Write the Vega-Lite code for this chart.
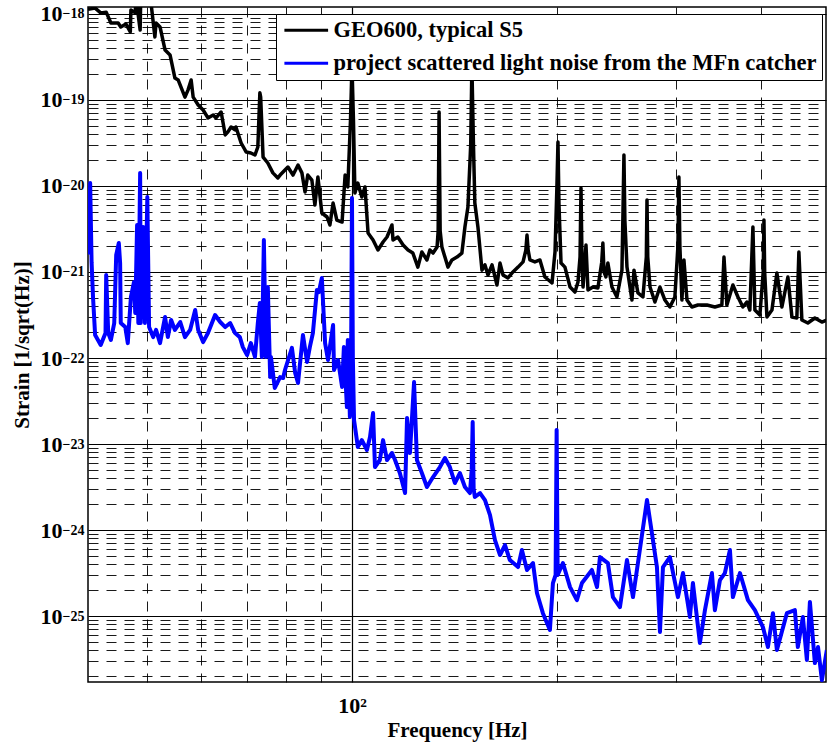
{
  "$schema": "https://vega.github.io/schema/vega-lite/v6.json",
  "width": 738,
  "height": 675,
  "autosize": {"type": "none"},
  "padding": {"left": 88, "top": 7, "right": 2, "bottom": 66},
  "background": "white",
  "config": {
    "view": {"stroke": "#000000", "strokeWidth": 1.5},
    "axis": {
      "domain": false,
      "ticks": false,
      "grid": true,
      "gridColor": "#000000",
      "gridOpacity": 1,
      "labelColor": "#000000",
      "titleColor": "#000000",
      "labelFont": "Liberation Serif",
      "titleFont": "Liberation Serif",
      "labelFontWeight": "bold",
      "titleFontWeight": "bold",
      "labelFontSize": 22,
      "titleFontSize": 21,
      "labelOverlap": false,
      "labelFlush": false
    }
  },
  "datasets": {
    "geo600": [
      {"f":40.9,"h":1.13e-18},{"f":41.9,"h":1.17e-18},{"f":42.7,"h":1.03e-18},{"f":43.5,"h":1.05e-18},{"f":44.2,"h":7.86e-19},{"f":45.3,"h":7.86e-19},{"f":45.7,"h":7.06e-19},{"f":46.5,"h":7.65e-19},{"f":47.2,"h":6.18e-19},{"f":47.3,"h":1.11e-18},{"f":48.0,"h":1.03e-18},{"f":48.1,"h":1.6e-18},{"f":48.8,"h":6.52e-19},{"f":48.9,"h":1.6e-18},{"f":50.5,"h":1.6e-18},{"f":51.3,"h":5.4e-19},{"f":51.5,"h":7.86e-19},{"f":52.2,"h":7.06e-19},{"f":53.1,"h":3.81e-19},{"f":54.0,"h":3.34e-19},{"f":54.9,"h":1.8e-19},{"f":55.5,"h":1.71e-19},{"f":56.8,"h":1.08e-19},{"f":57.4,"h":1.31e-19},{"f":58.0,"h":1.71e-19},{"f":58.4,"h":1.08e-19},{"f":59.4,"h":8.75e-20},{"f":60.4,"h":7.65e-20},{"f":61.4,"h":6.18e-20},{"f":62.5,"h":6.69e-20},{"f":63.1,"h":6.18e-20},{"f":64.2,"h":7.25e-20},{"f":65.1,"h":3.92e-20},{"f":65.7,"h":4.25e-20},{"f":66.4,"h":4.85e-20},{"f":67.3,"h":4.48e-20},{"f":67.5,"h":4.85e-20},{"f":68.7,"h":3.16e-20},{"f":69.9,"h":2.48e-20},{"f":71.0,"h":2.42e-20},{"f":72.0,"h":2.29e-20},{"f":72.7,"h":2.84e-20},{"f":73.2,"h":1.21e-19},{"f":73.4,"h":1.08e-19},{"f":74.0,"h":2.17e-20},{"f":75.2,"h":1.85e-20},{"f":76.5,"h":1.42e-20},{"f":77.8,"h":1.24e-20},{"f":78.4,"h":1.34e-20},{"f":79.7,"h":1.53e-20},{"f":80.5,"h":1.66e-20},{"f":81.9,"h":1.34e-20},{"f":83.3,"h":1.75e-20},{"f":84.4,"h":1.42e-20},{"f":85.3,"h":8.52e-21},{"f":86.1,"h":1.34e-20},{"f":87.3,"h":1.17e-20},{"f":88.2,"h":6.01e-21},{"f":89.1,"h":1.27e-20},{"f":90.3,"h":4.85e-21},{"f":91.9,"h":4.36e-21},{"f":92.8,"h":3.52e-21},{"f":93.8,"h":6.34e-21},{"f":95.0,"h":4.02e-21},{"f":96.7,"h":3.81e-21},{"f":97.7,"h":1.34e-20},{"f":98.6,"h":9.74e-21},{"f":99.5,"h":5.85e-20},{"f":100.0,"h":2.5e-19},{"f":100.5,"h":5.85e-20},{"f":101.0,"h":8.29e-21},{"f":102.0,"h":1.08e-20},{"f":103.4,"h":7.45e-21},{"f":104.5,"h":9.74e-21},{"f":105.6,"h":2.84e-21},{"f":107.4,"h":2.36e-21},{"f":109.2,"h":1.8e-21},{"f":111.1,"h":2.23e-21},{"f":112.6,"h":2.55e-21},{"f":114.5,"h":3.52e-21},{"f":114.9,"h":2.36e-21},{"f":116.8,"h":2.55e-21},{"f":118.9,"h":2.06e-21},{"f":120.9,"h":1.8e-21},{"f":122.9,"h":1.66e-21},{"f":125.0,"h":1.14e-21},{"f":126.7,"h":1.71e-21},{"f":128.9,"h":1.38e-21},{"f":130.2,"h":1.8e-21},{"f":131.6,"h":1.66e-21},{"f":133.4,"h":1.95e-21},{"f":133.9,"h":3.0e-21},{"f":134.3,"h":7.25e-20},{"f":134.8,"h":3.0e-21},{"f":135.6,"h":1.95e-21},{"f":137.0,"h":1.49e-21},{"f":138.4,"h":1.14e-21},{"f":140.3,"h":1.38e-21},{"f":142.7,"h":1.49e-21},{"f":145.1,"h":1.66e-21},{"f":146.6,"h":3.34e-21},{"f":148.1,"h":5.7e-21},{"f":149.5,"h":3.0e-20},{"f":150.1,"h":2.5e-19},{"f":150.9,"h":3.0e-20},{"f":151.6,"h":6.34e-21},{"f":153.2,"h":3.34e-21},{"f":155.3,"h":1.05e-21},{"f":156.9,"h":1.21e-21},{"f":158.5,"h":9.23e-22},{"f":160.7,"h":1.21e-21},{"f":163.4,"h":7.06e-22},{"f":165.1,"h":1.27e-21},{"f":166.8,"h":9.23e-22},{"f":169.6,"h":8.52e-22},{"f":172.5,"h":1.0e-21},{"f":175.5,"h":1.14e-21},{"f":178.5,"h":1.31e-21},{"f":180.2,"h":1.8e-21},{"f":180.9,"h":2.69e-21},{"f":181.6,"h":1.8e-21},{"f":182.7,"h":1.38e-21},{"f":185.8,"h":1.31e-21},{"f":189.0,"h":1.38e-21},{"f":192.2,"h":8.75e-22},{"f":196.9,"h":7.45e-22},{"f":198.9,"h":1.71e-21},{"f":200.2,"h":1.0e-20},{"f":200.9,"h":3.25e-20},{"f":201.6,"h":6.0e-21},{"f":203.0,"h":1.27e-21},{"f":205.7,"h":1.14e-21},{"f":209.3,"h":6.69e-22},{"f":212.8,"h":5.85e-22},{"f":215.0,"h":7.65e-22},{"f":216.5,"h":1.5e-21},{"f":217.2,"h":9.48e-21},{"f":217.9,"h":1.5e-21},{"f":218.7,"h":6.69e-22},{"f":220.9,"h":2.06e-21},{"f":222.4,"h":6.18e-22},{"f":226.2,"h":6.69e-22},{"f":230.0,"h":6.52e-22},{"f":233.0,"h":1.3e-21},{"f":233.9,"h":2.17e-21},{"f":234.8,"h":1.0e-21},{"f":236.3,"h":8.75e-22},{"f":237.9,"h":1.27e-21},{"f":241.2,"h":6.69e-22},{"f":245.3,"h":5.12e-22},{"f":249.5,"h":1.05e-21},{"f":250.4,"h":5.0e-21},{"f":251.2,"h":2.29e-20},{"f":252.0,"h":4.0e-21},{"f":253.8,"h":1.14e-21},{"f":258.1,"h":4.72e-22},{"f":259.9,"h":1.05e-21},{"f":263.4,"h":5.7e-22},{"f":267.9,"h":5.12e-22},{"f":271.0,"h":1.5e-21},{"f":271.6,"h":6.88e-21},{"f":272.3,"h":1.5e-21},{"f":274.4,"h":6.69e-22},{"f":279.0,"h":4.48e-22},{"f":283.8,"h":6.69e-22},{"f":288.6,"h":4.72e-22},{"f":293.5,"h":3.92e-22},{"f":298.5,"h":5.12e-22},{"f":301.6,"h":2.0e-21},{"f":302.6,"h":1.27e-20},{"f":303.6,"h":2.0e-21},{"f":305.7,"h":4.72e-22},{"f":307.8,"h":1.38e-21},{"f":311.0,"h":4.72e-22},{"f":316.2,"h":3.92e-22},{"f":322.7,"h":4.13e-22},{"f":332.7,"h":4.13e-22},{"f":341.8,"h":3.92e-22},{"f":350.0,"h":4.13e-22},{"f":352.5,"h":1.49e-21},{"f":356.0,"h":4.13e-22},{"f":363.3,"h":7.06e-22},{"f":369.6,"h":5.12e-22},{"f":375.8,"h":3.92e-22},{"f":380.9,"h":4.48e-22},{"f":384.8,"h":3.61e-22},{"f":388.8,"h":3.34e-21},{"f":391.4,"h":3.61e-22},{"f":398.1,"h":3.16e-22},{"f":402.6,"h":1.0e-21},{"f":403.6,"h":4.02e-21},{"f":404.6,"h":1.0e-21},{"f":407.7,"h":3.0e-22},{"f":414.7,"h":3.61e-22},{"f":421.7,"h":9.74e-22},{"f":428.9,"h":3.92e-22},{"f":437.7,"h":8.75e-22},{"f":443.7,"h":3.0e-22},{"f":451.2,"h":2.92e-22},{"f":454.3,"h":1.71e-21},{"f":458.9,"h":2.77e-22},{"f":468.3,"h":2.55e-22},{"f":479.6,"h":2.92e-22},{"f":491.1,"h":2.62e-22},{"f":499.4,"h":2.77e-22}
    ],
    "mfn": [
      {"f":41.0,"h":1.6e-21},{"f":41.2,"h":1.08e-20},{"f":41.4,"h":1.3e-21},{"f":41.6,"h":5.12e-22},{"f":41.9,"h":1.85e-22},{"f":42.3,"h":1.62e-22},{"f":42.7,"h":1.42e-22},{"f":43.4,"h":1.95e-22},{"f":43.5,"h":9.23e-22},{"f":43.8,"h":1.95e-22},{"f":44.2,"h":1.62e-22},{"f":44.7,"h":2.55e-22},{"f":45.0,"h":1.58e-21},{"f":45.4,"h":2.17e-21},{"f":45.6,"h":1.27e-21},{"f":45.7,"h":2.55e-22},{"f":46.4,"h":2.29e-22},{"f":46.8,"h":1.49e-22},{"f":47.3,"h":5.12e-22},{"f":47.8,"h":7.65e-22},{"f":48.0,"h":3.34e-22},{"f":48.3,"h":3.52e-21},{"f":48.5,"h":2.55e-22},{"f":48.8,"h":1.42e-20},{"f":48.9,"h":2.55e-22},{"f":49.3,"h":3.34e-21},{"f":49.6,"h":2.55e-22},{"f":50.0,"h":7.45e-21},{"f":50.3,"h":2.29e-22},{"f":51.0,"h":1.75e-22},{"f":51.5,"h":2.12e-22},{"f":52.2,"h":1.49e-22},{"f":53.1,"h":3.0e-22},{"f":53.6,"h":1.75e-22},{"f":54.2,"h":2.77e-22},{"f":54.9,"h":2.12e-22},{"f":55.9,"h":2.62e-22},{"f":56.8,"h":1.75e-22},{"f":57.8,"h":2.12e-22},{"f":58.8,"h":3.61e-22},{"f":59.4,"h":2.12e-22},{"f":60.4,"h":1.53e-22},{"f":61.4,"h":1.95e-22},{"f":62.9,"h":3.16e-22},{"f":64.0,"h":2.62e-22},{"f":65.1,"h":2.29e-22},{"f":66.2,"h":2.55e-22},{"f":67.3,"h":1.95e-22},{"f":68.4,"h":1.75e-22},{"f":69.1,"h":1.34e-22},{"f":70.1,"h":1.08e-22},{"f":71.0,"h":1.49e-22},{"f":72.0,"h":1.03e-22},{"f":72.7,"h":2.55e-22},{"f":73.2,"h":4.36e-22},{"f":73.7,"h":1.03e-22},{"f":74.2,"h":2.36e-21},{"f":74.7,"h":1.03e-22},{"f":75.2,"h":6.69e-22},{"f":75.8,"h":6.01e-23},{"f":76.0,"h":1.03e-22},{"f":77.0,"h":4.48e-23},{"f":78.4,"h":6.0e-23},{"f":79.2,"h":5.85e-23},{"f":79.7,"h":7.25e-23},{"f":81.6,"h":1.31e-22},{"f":82.5,"h":6.69e-23},{"f":83.3,"h":5.12e-23},{"f":84.7,"h":1.85e-22},{"f":85.9,"h":8.99e-23},{"f":86.7,"h":1.34e-22},{"f":87.6,"h":1.95e-22},{"f":88.8,"h":6.18e-22},{"f":89.4,"h":5.85e-22},{"f":90.3,"h":8.52e-22},{"f":91.3,"h":1.49e-22},{"f":92.2,"h":9.48e-23},{"f":93.8,"h":2.42e-22},{"f":94.1,"h":7.25e-23},{"f":95.4,"h":9.48e-23},{"f":96.7,"h":4.6e-23},{"f":97.3,"h":1.34e-22},{"f":98.3,"h":2.69e-23},{"f":98.6,"h":1.62e-22},{"f":99.3,"h":2.06e-23},{"f":99.7,"h":1.0e-22},{"f":100.0,"h":7.25e-21},{"f":100.3,"h":1.0e-22},{"f":100.7,"h":1.9e-23},{"f":102.0,"h":9.23e-24},{"f":103.4,"h":1.11e-23},{"f":105.2,"h":8.52e-24},{"f":106.3,"h":1.21e-23},{"f":107.4,"h":2.29e-23},{"f":108.1,"h":5.4e-24},{"f":109.9,"h":6.52e-24},{"f":111.1,"h":1.11e-23},{"f":112.6,"h":6.52e-24},{"f":114.5,"h":7.86e-24},{"f":115.7,"h":6.52e-24},{"f":117.6,"h":4.6e-24},{"f":119.7,"h":2.69e-24},{"f":120.5,"h":2.01e-23},{"f":121.7,"h":7.86e-24},{"f":123.4,"h":5.26e-23},{"f":124.6,"h":6.52e-24},{"f":126.7,"h":4.6e-24},{"f":128.9,"h":3.16e-24},{"f":131.6,"h":4.13e-24},{"f":134.7,"h":5.4e-24},{"f":137.0,"h":6.88e-24},{"f":139.3,"h":5.4e-24},{"f":141.7,"h":3.52e-24},{"f":144.1,"h":4.6e-24},{"f":146.6,"h":3.16e-24},{"f":149.1,"h":2.69e-24},{"f":150.0,"h":5.0e-24},{"f":150.5,"h":1.8e-23},{"f":151.0,"h":3.0e-24},{"f":151.6,"h":2.42e-24},{"f":154.3,"h":2.69e-24},{"f":156.9,"h":2.23e-24},{"f":159.6,"h":1.49e-24},{"f":162.3,"h":7.65e-25},{"f":165.1,"h":5.12e-25},{"f":167.9,"h":6.69e-25},{"f":170.7,"h":4.48e-25},{"f":175.5,"h":3.71e-25},{"f":177.8,"h":5.85e-25},{"f":180.9,"h":3.43e-25},{"f":184.6,"h":4.13e-25},{"f":187.1,"h":1.85e-25},{"f":190.9,"h":1.08e-25},{"f":195.5,"h":6.88e-26},{"f":197.5,"h":2.42e-25},{"f":199.3,"h":3.0e-25},{"f":200.0,"h":1.46e-23},{"f":200.7,"h":3.0e-25},{"f":204.3,"h":4.13e-25},{"f":209.3,"h":2.17e-25},{"f":214.2,"h":1.53e-25},{"f":217.9,"h":2.42e-25},{"f":225.4,"h":3.43e-25},{"f":229.3,"h":2.17e-25},{"f":231.6,"h":4.85e-25},{"f":237.9,"h":4.13e-25},{"f":242.0,"h":1.66e-25},{"f":247.8,"h":1.27e-25},{"f":253.8,"h":4.48e-25},{"f":259.0,"h":1.66e-25},{"f":263.4,"h":4.13e-25},{"f":271.6,"h":2.23e-24},{"f":280.9,"h":3.71e-25},{"f":283.8,"h":6.52e-26},{"f":286.7,"h":3.71e-25},{"f":293.5,"h":4.85e-25},{"f":301.6,"h":1.66e-25},{"f":306.8,"h":3.16e-25},{"f":314.1,"h":9.74e-26},{"f":317.3,"h":2.42e-25},{"f":324.9,"h":4.85e-26},{"f":330.5,"h":1.17e-25},{"f":338.4,"h":3.16e-25},{"f":341.8,"h":1.17e-25},{"f":347.7,"h":2.62e-25},{"f":353.6,"h":3.16e-25},{"f":359.7,"h":5.85e-25},{"f":363.3,"h":1.66e-25},{"f":372.1,"h":3.16e-25},{"f":382.3,"h":1.53e-25},{"f":391.4,"h":1.17e-25},{"f":402.2,"h":7.45e-26},{"f":409.1,"h":4.36e-26},{"f":416.1,"h":1.08e-25},{"f":421.7,"h":4.02e-26},{"f":436.2,"h":1.08e-25},{"f":448.2,"h":1.17e-25},{"f":452.7,"h":4.36e-26},{"f":460.5,"h":9.74e-26},{"f":466.8,"h":3.08e-26},{"f":471.6,"h":1.46e-25},{"f":479.6,"h":2.84e-26},{"f":484.7,"h":4.36e-26},{"f":491.1,"h":1.8e-26},{"f":499.4,"h":4.02e-26}
    ]
  },
  "encoding": {
    "x": {
      "field": "f",
      "type": "quantitative",
      "scale": {"type": "log", "domain": [40.9, 498], "nice": false},
      "axis": {
        "title": "Frequency [Hz]",
        "values": [50, 60, 70, 80, 90, 100, 200, 300, 400],
        "labelExpr": "datum.value == 100 ? '10²' : ''",
        "gridDash": {"condition": {"test": "datum.value == 100", "value": []}, "value": [10, 8]},
        "gridWidth": {"condition": {"test": "datum.value == 100", "value": 1.2}, "value": 0.9},
        "labelPadding": 13,
        "titlePadding": 3
      }
    }
  },
  "resolve": {"scale": {"y": "independent"}, "axis": {"y": "independent"}},
  "layer": [
    {
      "data": {"name": "geo600"},
      "mark": {"type": "line", "clip": true, "strokeWidth": 3.5, "strokeJoin": "round"},
      "encoding": {
        "y": {
          "field": "h",
          "type": "quantitative",
          "scale": {"type": "log", "domain": [1.71e-26, 1.205e-18], "nice": false},
          "axis": {
            "orient": "left",
            "title": "Strain [1/sqrt(Hz)]",
            "values": [2e-26,3e-26,4e-26,5e-26,6e-26,7e-26,8e-26,9e-26,1e-25,2e-25,3e-25,4e-25,5e-25,6e-25,7e-25,8e-25,9e-25,1e-24,2e-24,3e-24,4e-24,5e-24,6e-24,7e-24,8e-24,9e-24,1e-23,2e-23,3e-23,4e-23,5e-23,6e-23,7e-23,8e-23,9e-23,1e-22,2e-22,3e-22,4e-22,5e-22,6e-22,7e-22,8e-22,9e-22,1e-21,2e-21,3e-21,4e-21,5e-21,6e-21,7e-21,8e-21,9e-21,1e-20,2e-20,3e-20,4e-20,5e-20,6e-20,7e-20,8e-20,9e-20,1e-19,2e-19,3e-19,4e-19,5e-19,6e-19,7e-19,8e-19,9e-19,1e-18],
            "labelExpr": "abs(log(datum.value)/LN10 - round(log(datum.value)/LN10)) > 0.001 ? '' : '10'",
            "gridDash": {"condition": {"test": "abs(log(datum.value)/LN10 - round(log(datum.value)/LN10)) < 0.001", "value": []}, "value": [10, 8]},
            "gridWidth": {"condition": {"test": "abs(log(datum.value)/LN10 - round(log(datum.value)/LN10)) < 0.001", "value": 1.2}, "value": 0.9},
            "labelPadding": 26,
            "labelDy": 3,
            "titlePadding": 8
          }
        },
        "color": {
          "datum": "GEO600, typical S5",
          "type": "nominal",
          "scale": {"domain": ["GEO600, typical S5", "project scattered light noise from the MFn catcher"], "range": ["#000000", "#0000ff"]},
          "legend": {
            "title": null,
            "orient": "none",
            "legendX": 188,
            "legendY": 7,
            "direction": "vertical",
            "symbolType": "M-2.3,0H2.3",
            "symbolSize": 361,
            "symbolStrokeWidth": 3,
            "symbolOffset": 14,
            "labelOffset": 16,
            "labelFont": "Liberation Serif",
            "labelFontWeight": "bold",
            "labelFontSize": 22.5,
            "labelColor": "#000000",
            "labelLimit": 0,
            "strokeColor": "#000000",
            "fillColor": "#ffffff",
            "padding": 5,
            "rowPadding": 10
          }
        }
      }
    },
    {
      "data": {"name": "mfn"},
      "mark": {"type": "line", "clip": true, "strokeWidth": 4, "strokeJoin": "round"},
      "encoding": {
        "y": {
          "field": "h",
          "type": "quantitative",
          "scale": {"type": "log", "domain": [1.71e-26, 1.205e-18], "nice": false},
          "axis": {
            "orient": "left",
            "title": null,
            "grid": false,
            "values": [1e-25, 1e-24, 1e-23, 1e-22, 1e-21, 1e-20, 1e-19, 1e-18],
            "labelExpr": "'−' + format(-round(log(datum.value)/LN10), 'd')",
            "labelAlign": "left",
            "labelFontSize": 14,
            "labelPadding": 26,
            "labelDy": -9
          }
        },
        "color": {"datum": "project scattered light noise from the MFn catcher", "type": "nominal"}
      }
    }
  ]
}
